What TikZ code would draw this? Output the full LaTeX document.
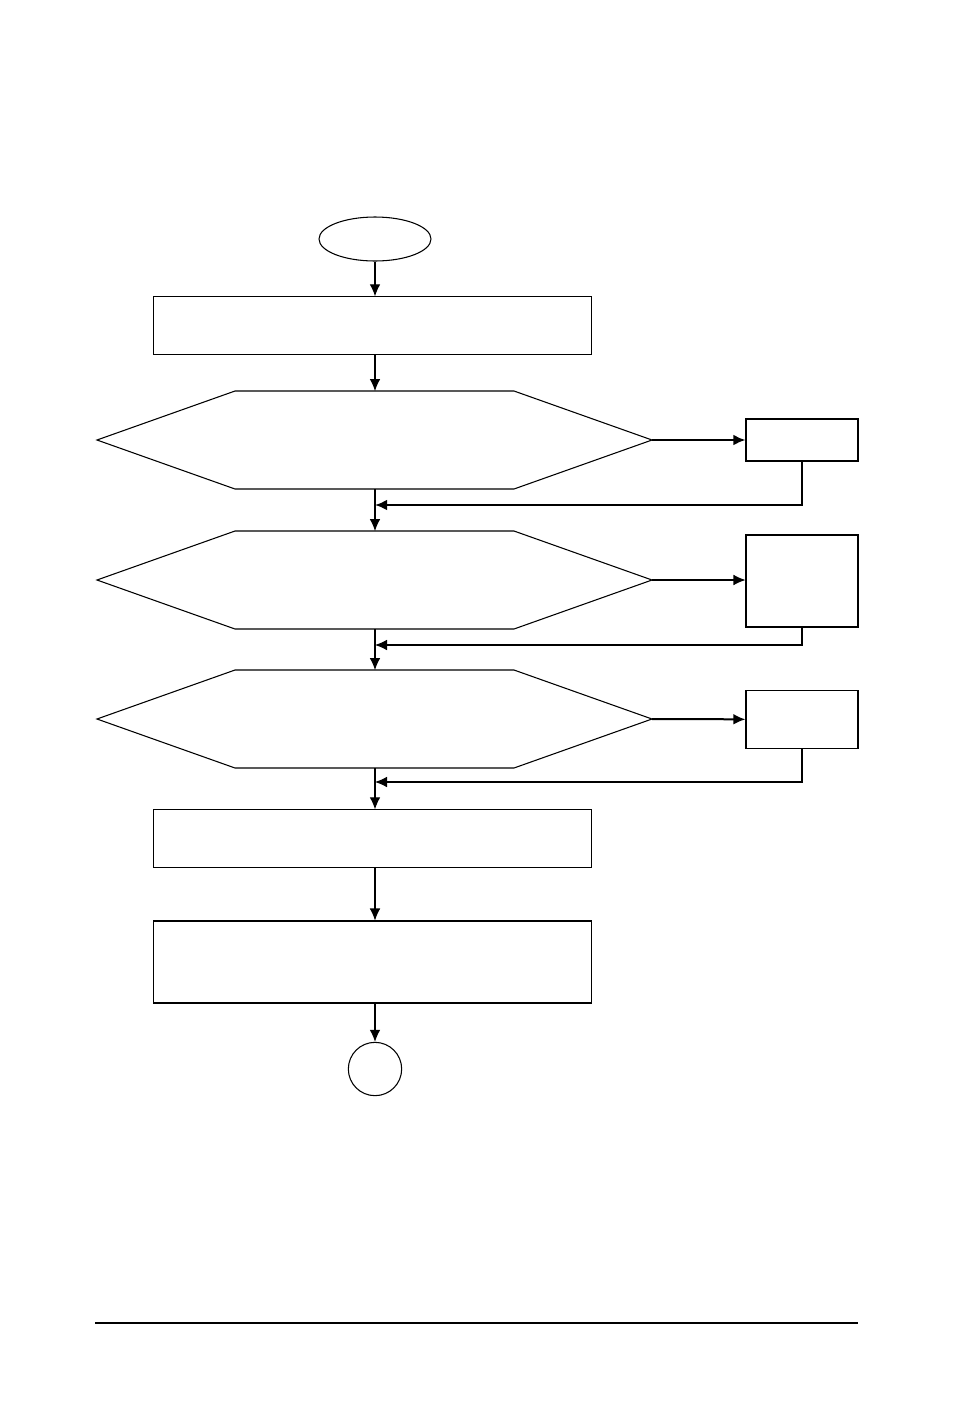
\documentclass[tikz,border=0pt]{standalone}
\usetikzlibrary{arrows.meta,shapes.geometric}
\begin{document}
\begin{tikzpicture}[x=0.75pt,y=-0.75pt,line width=0.8pt,
  arr/.style={-{Latex[length=9pt,width=8pt]}},
  blk/.style={draw,fill=white}]
\useasboundingbox (0,0) rectangle (954,1418);
\node[draw,ellipse,minimum width=84pt,minimum height=33pt,inner sep=0] (start) at (375,239) {};
\node[blk,minimum width=329pt,minimum height=43pt] (b1) at (372.5,325.5) {};
\foreach \n/\y in {h1/440,h2/580,h3/719}{
  \draw (97,\y) -- (235,\y-49) -- (514,\y-49) -- (652,\y) -- (514,\y+49) -- (235,\y+49) -- cycle;
  \coordinate (\n t) at (375,\y-49);
  \coordinate (\n b) at (375,\y+49);
  \coordinate (\n r) at (652,\y);
}
\node[blk,minimum width=84pt,minimum height=31.5pt] (s1) at (802,440) {};
\node[blk,minimum width=84pt,minimum height=69pt] (s2) at (802,581) {};
\node[blk,minimum width=84pt,minimum height=44pt] (s3) at (802,719.5) {};
\node[blk,minimum width=329pt,minimum height=43pt] (b2) at (372.5,838.5) {};
\node[blk,minimum width=329pt,minimum height=61.5pt] (b3) at (372.5,962) {};
\node[draw,circle,minimum size=40pt,inner sep=0] (end) at (375,1069) {};
\draw[arr] (start.south) -- (start.south |- b1.north);
\draw[arr] (b1.south -| h1t) -- (h1t);
\draw[arr] (h1b) -- (h2t);
\draw[arr] (h2b) -- (h3t);
\draw[arr] (h3b) -- (h3b |- b2.north);
\draw[arr] (b2.south -| h3b) -- (h3b |- b3.north);
\draw[arr] (b3.south -| end) -- (end.north);
\draw[arr,line width=1.5pt] (h1r) -- (s1);
\draw[arr] (h2r) -- (s2.west|-h2r);
\draw[arr,line width=1.5pt] (h3r) -- (s3);
\draw[arr,line width=1.5pt] (s1.south) |- (375,505);
\draw[arr] (s2.south) |- (375,645);
\draw[arr] (s3.south) |- (375,782);
\draw[line width=1.2pt] (95,1323) -- (858,1323);
\end{tikzpicture}
\end{document}
